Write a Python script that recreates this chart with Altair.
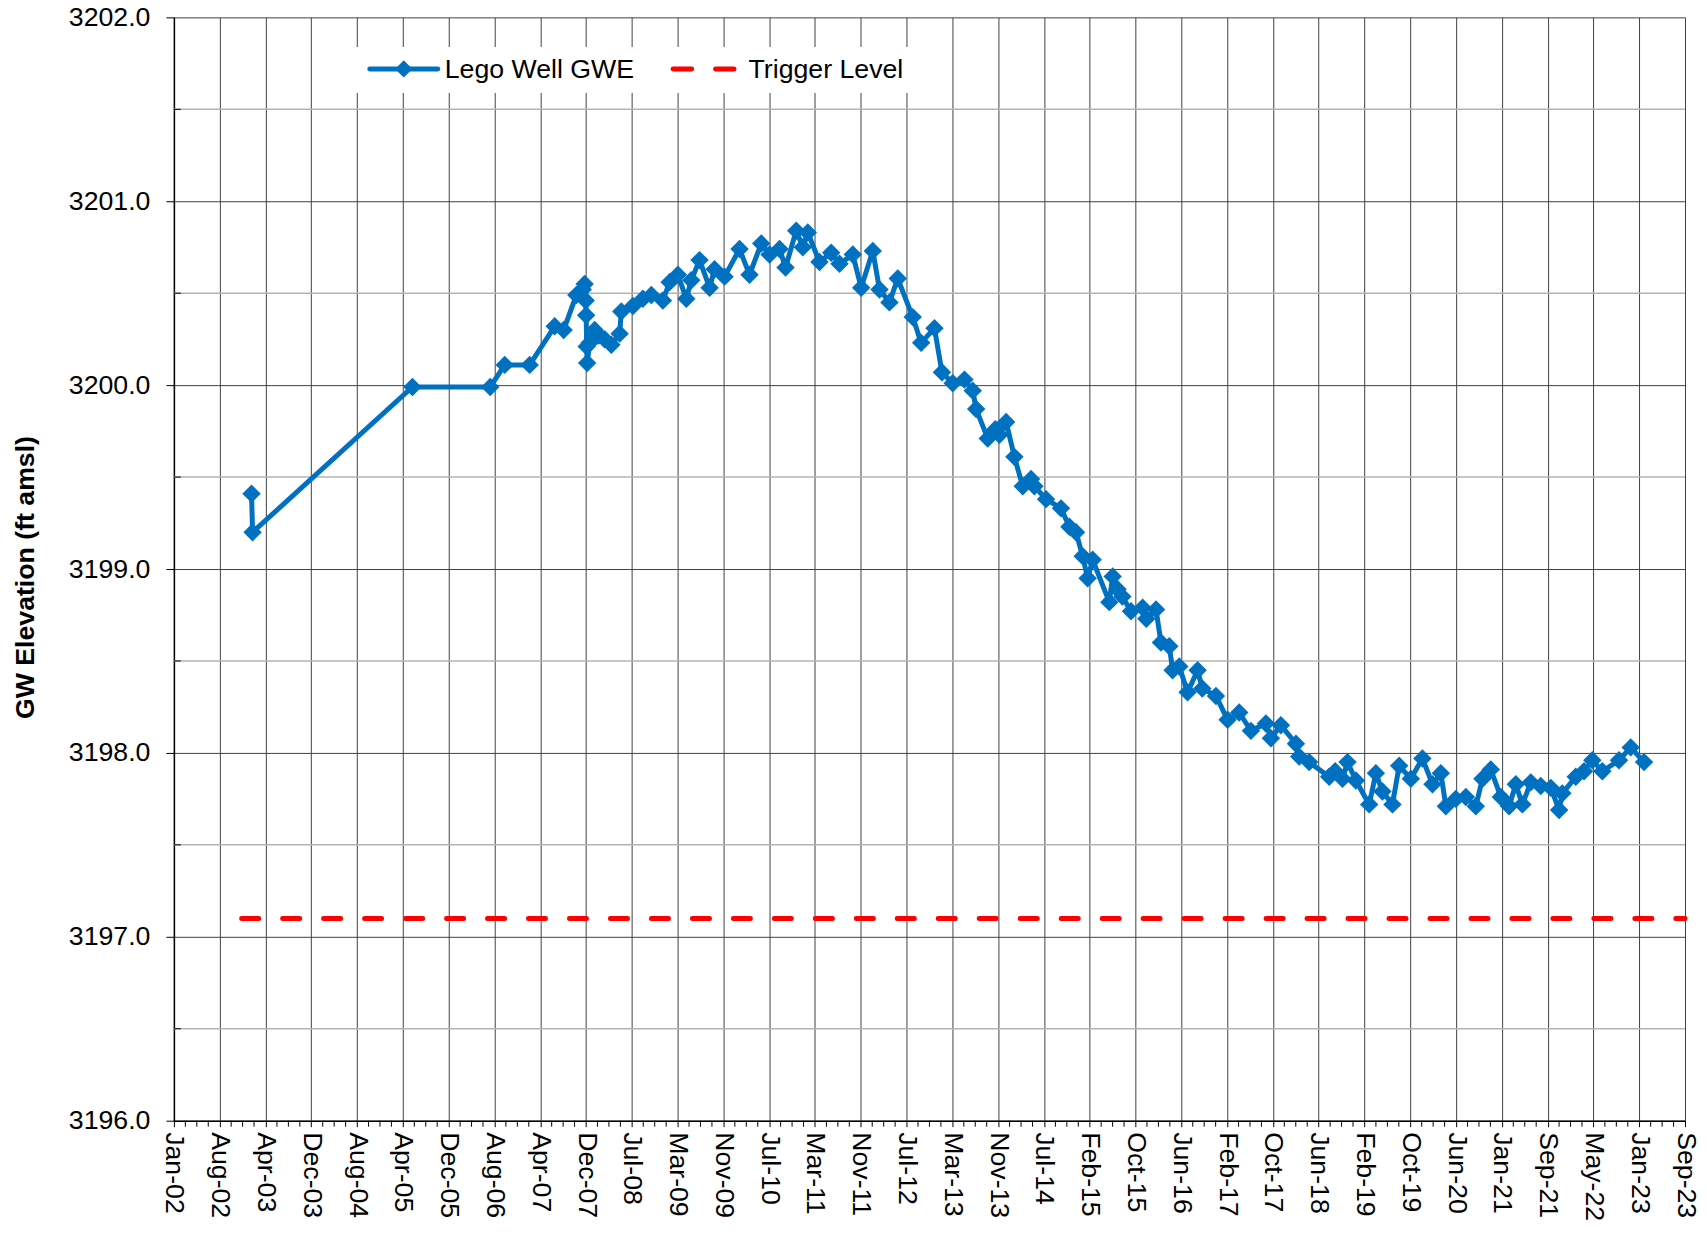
import altair as alt
import pandas as pd

# ---------------- data ----------------
dec_year = [
    2003.141, 2003.156, 2005.450, 2006.566, 2006.774, 2007.132, 2007.491, 2007.620,
    2007.802, 2007.893, 2007.921, 2007.936, 2007.943, 2007.950, 2007.957, 2007.993,
    2008.065, 2008.122, 2008.208, 2008.304, 2008.423, 2008.447, 2008.614, 2008.757,
    2008.878, 2009.044, 2009.140, 2009.259, 2009.380, 2009.451, 2009.570, 2009.714,
    2009.785, 2009.929, 2010.144, 2010.287, 2010.455, 2010.574, 2010.718, 2010.804,
    2010.957, 2011.052, 2011.123, 2011.291, 2011.459, 2011.578, 2011.769, 2011.889,
    2012.056, 2012.152, 2012.295, 2012.414, 2012.629, 2012.750, 2012.941, 2013.048,
    2013.203, 2013.371, 2013.490, 2013.539, 2013.705, 2013.815, 2013.873, 2013.969,
    2014.088, 2014.207, 2014.327, 2014.375, 2014.542, 2014.757, 2014.877, 2014.972,
    2015.067, 2015.139, 2015.211, 2015.450, 2015.498, 2015.569, 2015.637, 2015.761,
    2015.928, 2015.981, 2016.120, 2016.191, 2016.311, 2016.358, 2016.454, 2016.573,
    2016.717, 2016.784, 2016.980, 2017.147, 2017.314, 2017.482, 2017.697, 2017.769,
    2017.912, 2018.128, 2018.175, 2018.318, 2018.605, 2018.691, 2018.796, 2018.868,
    2018.988, 2019.179, 2019.275, 2019.369, 2019.513, 2019.609, 2019.777, 2019.943,
    2020.087, 2020.207, 2020.279, 2020.422, 2020.566, 2020.709, 2020.804, 2020.924,
    2021.068, 2021.187, 2021.283, 2021.377, 2021.498, 2021.641, 2021.785, 2021.904,
    2021.951, 2022.143, 2022.262, 2022.381, 2022.525, 2022.764, 2022.932, 2023.123,
]
gwe = [
    3199.41, 3199.20, 3199.99, 3199.99, 3200.11, 3200.11, 3200.32, 3200.30,
    3200.49, 3200.52, 3200.55, 3200.46, 3200.38, 3200.21, 3200.12, 3200.23,
    3200.30, 3200.27, 3200.25, 3200.22, 3200.28, 3200.40, 3200.43, 3200.47,
    3200.49, 3200.46, 3200.56, 3200.60, 3200.47, 3200.57, 3200.68, 3200.53,
    3200.63, 3200.59, 3200.74, 3200.60, 3200.77, 3200.71, 3200.74, 3200.64,
    3200.84, 3200.75, 3200.83, 3200.67, 3200.72, 3200.66, 3200.71, 3200.53,
    3200.73, 3200.52, 3200.45, 3200.58, 3200.37, 3200.23, 3200.31, 3200.07,
    3200.01, 3200.03, 3199.97, 3199.87, 3199.71, 3199.76, 3199.73, 3199.80,
    3199.61, 3199.45, 3199.49, 3199.45, 3199.38, 3199.33, 3199.23, 3199.20,
    3199.07, 3198.95, 3199.05, 3198.82, 3198.96, 3198.89, 3198.85, 3198.77,
    3198.79, 3198.73, 3198.78, 3198.60, 3198.58, 3198.45, 3198.47, 3198.33,
    3198.45, 3198.35, 3198.31, 3198.18, 3198.22, 3198.12, 3198.16, 3198.08,
    3198.15, 3198.05, 3197.98, 3197.95, 3197.87, 3197.90, 3197.86, 3197.95,
    3197.85, 3197.72, 3197.89, 3197.79, 3197.72, 3197.93, 3197.86, 3197.97,
    3197.83, 3197.89, 3197.71, 3197.75, 3197.76, 3197.71, 3197.86, 3197.91,
    3197.76, 3197.71, 3197.83, 3197.72, 3197.84, 3197.82, 3197.81, 3197.69,
    3197.78, 3197.87, 3197.90, 3197.96, 3197.90, 3197.96, 3198.03, 3197.95,
]

trigger_level = 3197.1
trigger_start = 2003.0

tick_labels = [
    "Jan-02", "Aug-02", "Apr-03", "Dec-03", "Aug-04", "Apr-05", "Dec-05", "Aug-06",
    "Apr-07", "Dec-07", "Jul-08", "Mar-09", "Nov-09", "Jul-10", "Mar-11", "Nov-11",
    "Jul-12", "Mar-13", "Nov-13", "Jul-14", "Feb-15", "Oct-15", "Jun-16", "Feb-17",
    "Oct-17", "Jun-18", "Feb-19", "Oct-19", "Jun-20", "Jan-21", "Sep-21", "May-22",
    "Jan-23", "Sep-23",
]
axis_start = 2002.027
tick_unit = 0.65709
n_int = len(tick_labels) - 1
axis_end = axis_start + n_int * tick_unit
tick_vals = [axis_start + i * tick_unit for i in range(len(tick_labels))]
x_minor = [axis_start + (i + k / 4) * tick_unit for i in range(n_int) for k in (1, 2, 3)]

y_major = [3196, 3197, 3198, 3199, 3200, 3201, 3202]
y_minor = [3196.5, 3197.5, 3198.5, 3199.5, 3200.5, 3201.5]

series_names = ["Lego Well GWE", "Trigger Level"]

# ---------------- styling ----------------
W, H = 1512, 1104
FONT = "Liberation Sans"
FS = 26.7
BLUE = "#0070C0"
RED = "#FF0000"
GRID = "#404040"

df = pd.DataFrame({"year": dec_year, "gwe": gwe})
trig_df = pd.DataFrame({"x": [trigger_start], "x2": [axis_end], "y": [trigger_level]})
minor_y_df = pd.DataFrame({"y": y_minor})
minor_x_df = pd.DataFrame({"x": x_minor})
one = alt.Data(values=[{"a": 1}])

label_arr = "[" + ",".join("'%s'" % s for s in tick_labels) + "]"
label_expr = "%s[round((datum.value - %f) / %f)]" % (label_arr, axis_start, tick_unit)

xscale = alt.Scale(domain=[axis_start, axis_end], nice=False, zero=False)
yscale = alt.Scale(domain=[3196, 3202], nice=False, zero=False)

x_axis = alt.Axis(
    values=tick_vals, labelExpr=label_expr, labelAngle=90, labelFont=FONT,
    labelFontSize=FS, labelColor="black", labelPadding=5, labelOverlap=False,
    labelFlush=False, tickSize=6, tickColor="black", tickWidth=1,
    domainColor="black", domainWidth=1.5, grid=True, gridColor=GRID,
    gridWidth=1, title=None,
)
y_axis = alt.Axis(
    values=y_major, format=".1f", labelFont=FONT, labelFontSize=FS,
    labelColor="black", labelPadding=16, tickSize=8, tickColor="black",
    domainColor="black", domainWidth=1.5, grid=True, gridColor=GRID, gridWidth=1,
    title="GW Elevation (ft amsl)", titleFont=FONT, titleFontSize=FS,
    titleFontWeight="bold", titleColor="black", titleAngle=270,
    titleX=-148, titleY=560, titleAlign="center", titleBaseline="middle",
)

# axes holder + minor gridlines
minor_grid = alt.Chart(minor_y_df).mark_rule(color="#b3b3b3", strokeWidth=1.5).encode(
    y=alt.Y("y:Q", scale=yscale, axis=y_axis),
)

x_axis_holder = alt.Chart(df).mark_point(opacity=0).encode(
    x=alt.X("year:Q", scale=xscale, axis=x_axis),
    y=alt.Y("gwe:Q", scale=yscale),
)

minor_x_ticks = alt.Chart(minor_x_df).mark_rule(color="black", strokeWidth=1).encode(
    x=alt.X("x:Q", scale=xscale),
    y=alt.value(H), y2=alt.value(H + 6),
)
minor_y_ticks = alt.Chart(minor_y_df).mark_rule(color="black", strokeWidth=1).encode(
    y=alt.Y("y:Q", scale=yscale),
    x=alt.value(0), x2=alt.value(7),
)

trigger = alt.Chart(trig_df).mark_rule(
    color=RED, strokeWidth=5, strokeDash=[17, 24], strokeCap="round"
).encode(
    x=alt.X("x:Q", scale=xscale), x2="x2:Q",
    y=alt.Y("y:Q", scale=yscale),
)

gwe_line = alt.Chart(df).mark_line(
    color=BLUE, strokeWidth=5,
    point=alt.OverlayMarkDef(shape="diamond", size=340, filled=True, color=BLUE, opacity=1),
).encode(
    x=alt.X("year:Q", scale=xscale),
    y=alt.Y("gwe:Q", scale=yscale),
)

# legend (drawn inside the plot, as in the reference)
LY = 51.6
leg_box = alt.Chart(one).mark_rect(color="white").encode(
    x=alt.value(176), x2=alt.value(742), y=alt.value(29.6), y2=alt.value(75.6)
)
leg_line = alt.Chart(one).mark_rule(color=BLUE, strokeWidth=5, strokeCap="round").encode(
    x=alt.value(196), x2=alt.value(264), y=alt.value(LY)
)
leg_pt = alt.Chart(one).mark_point(shape="diamond", size=300, filled=True, color=BLUE, opacity=1).encode(
    x=alt.value(230), y=alt.value(LY)
)
leg_dash = alt.Chart(one).mark_rule(
    color=RED, strokeWidth=5, strokeDash=[18.5, 24], strokeCap="round"
).encode(x=alt.value(499.5), x2=alt.value(560.5), y=alt.value(LY))
leg_t1 = alt.Chart(one).mark_text(
    text=series_names[0], font=FONT, fontSize=FS, align="left", baseline="middle", color="black"
).encode(x=alt.value(271), y=alt.value(LY + 1))
leg_t2 = alt.Chart(one).mark_text(
    text=series_names[1], font=FONT, fontSize=FS, align="left", baseline="middle", color="black"
).encode(x=alt.value(575), y=alt.value(LY + 1))

chart = alt.layer(
    minor_grid, x_axis_holder, minor_x_ticks, minor_y_ticks, trigger, gwe_line,
    leg_box, leg_line, leg_pt, leg_dash, leg_t1, leg_t2,
).properties(
    width=W, height=H,
    autosize=alt.AutoSizeParams(type="none"),
    padding={"left": 166, "top": 9, "right": 14, "bottom": 101},
    background="white",
).configure_view(stroke="transparent")

chart.save("out.html", embed_options={"renderer": "svg", "actions": False})
